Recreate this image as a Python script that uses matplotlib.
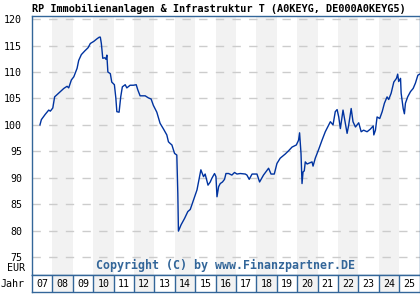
import matplotlib
matplotlib.use("Agg")
import matplotlib.pyplot as plt
from matplotlib.patches import Rectangle

# fund price (EUR): decimal year, value
years = [2007.39, 2007.46, 2007.65, 2007.82, 2007.90, 2008.02, 2008.11, 2008.31, 2008.56, 2008.72,
         2008.80, 2008.93, 2009.05, 2009.21, 2009.29, 2009.42, 2009.59, 2009.75, 2009.86, 2010.03,
         2010.19, 2010.30, 2010.35, 2010.40, 2010.47, 2010.57, 2010.63, 2010.67, 2010.72, 2010.84,
         2010.91, 2011.04, 2011.11, 2011.16, 2011.27, 2011.35, 2011.43, 2011.57, 2011.65, 2011.81,
         2011.97, 2012.11, 2012.19, 2012.30, 2012.55, 2012.71, 2012.84, 2012.95, 2013.12, 2013.28,
         2013.45, 2013.61, 2013.69, 2013.77, 2013.86, 2013.99, 2014.10, 2014.15, 2014.18, 2014.31,
         2014.48, 2014.64, 2014.76, 2014.92, 2015.09, 2015.20, 2015.28, 2015.33, 2015.41, 2015.49,
         2015.63, 2015.74, 2015.82, 2015.95, 2016.02, 2016.07, 2016.15, 2016.23, 2016.34, 2016.44,
         2016.51, 2016.64, 2016.80, 2016.93, 2017.05, 2017.21, 2017.46, 2017.54, 2017.65, 2017.79,
         2017.95, 2018.03, 2018.16, 2018.35, 2018.60, 2018.72, 2018.88, 2019.01, 2019.17, 2019.42,
         2019.58, 2019.75, 2019.96, 2020.07, 2020.12, 2020.19, 2020.24, 2020.29, 2020.35, 2020.40,
         2020.49, 2020.61, 2020.73, 2020.78, 2020.89, 2021.06, 2021.22, 2021.38, 2021.55, 2021.63,
         2021.76, 2021.87, 2021.96, 2022.04, 2022.12, 2022.25, 2022.32, 2022.45, 2022.53, 2022.65,
         2022.74, 2022.86, 2023.02, 2023.14, 2023.26, 2023.43, 2023.59, 2023.73, 2023.76, 2023.84,
         2023.92, 2024.05, 2024.17, 2024.28, 2024.41, 2024.49, 2024.61, 2024.74, 2024.87, 2024.93,
         2024.98, 2025.07, 2025.10, 2025.20, 2025.26, 2025.31, 2025.42, 2025.56, 2025.69, 2025.80,
         2025.92, 2026.01]
prices = [100.0, 101.0, 102.0, 102.8, 102.6, 103.2, 105.3, 106.0, 106.9, 107.3,
          107.0, 108.5, 109.1, 110.7, 112.2, 113.3, 114.0, 114.6, 115.4, 115.8,
          116.3, 116.6, 116.6, 115.4, 112.6, 112.7, 112.4, 113.2, 110.0, 109.7,
          108.1, 107.6, 105.1, 102.5, 102.4, 105.3, 107.2, 107.6, 107.0, 107.5,
          107.5, 107.6, 106.6, 105.5, 105.5, 105.1, 104.9, 103.7, 102.4, 100.3,
          99.2, 98.1, 96.8, 96.5, 96.2, 94.6, 94.3, 87.0, 79.9, 81.1,
          82.3, 83.6, 84.0, 85.8, 87.7, 89.9, 91.5, 91.0, 90.2, 90.7,
          88.6, 89.2, 89.9, 90.8, 90.2, 86.4, 88.3, 88.9, 89.2, 89.7,
          90.8, 90.8, 90.5, 91.0, 90.7, 90.8, 90.7, 90.5, 89.7, 90.7,
          90.7, 90.7, 89.2, 90.5, 91.8, 90.7, 90.7, 92.7, 93.7, 94.5,
          95.1, 95.8, 96.2, 97.1, 98.5, 94.6, 88.9, 91.1, 91.3, 93.0,
          92.6, 92.8, 93.0, 92.2, 93.7, 95.4, 97.1, 98.7, 100.0, 100.6,
          100.0, 102.5, 102.9, 101.5, 99.3, 102.8, 101.3, 98.4, 100.0, 103.1,
          100.6, 99.6, 100.4, 98.7, 99.0, 98.7, 99.2, 99.8, 98.1, 99.0,
          101.5, 101.2, 102.5, 104.1, 105.3, 104.8, 106.0, 108.1, 108.8, 109.6,
          108.2, 108.8, 106.0, 103.1, 102.1, 104.1, 105.3, 106.3, 106.9, 107.9,
          109.4, 109.6]

year_labels = ["07", "08", "09", "10", "11", "12", "13", "14", "15", "16",
               "17", "18", "19", "20", "21", "22", "23", "24", "25"]
y_ticks = [75, 80, 85, 90, 95, 100, 105, 110, 115, 120]

frame_col = "#336699"
line_col = "#0033a0"
shade = "#f2f2f2"
mono = "DejaVu Sans Mono"

fig = plt.figure(figsize=(4.2, 3.0), dpi=100)
W, H = 420.0, 300.0
ax = fig.add_axes([32 / W, 25 / H, 387.5 / W, 259 / H])
yr = fig.add_axes([32 / W, 8 / H, 387.5 / W, 17 / H])

x0 = 2007
ax.set_xlim(x0, x0 + len(year_labels))
ax.set_ylim(71.6, 120.6)

# alternating year bands
for i, lab in enumerate(year_labels):
    if i % 2 == 1:
        ax.axvspan(x0 + i, x0 + i + 1, color=shade, zorder=0, lw=0)
        yr.add_patch(Rectangle((i, 0), 1, 1, color=shade, zorder=0, lw=0))

for t in y_ticks:
    ax.axhline(t, color="#cccccc", lw=1, ls=(0, (6, 6)), zorder=1)

ax.plot(years, prices, color=line_col, lw=1.0, zorder=3)

ax.set_xticks([])
ax.set_yticks(y_ticks)
ax.set_yticklabels([str(t) for t in y_ticks], family=mono, fontsize=7.2)
ax.tick_params(axis="y", length=0, pad=7)
for s in ax.spines.values():
    s.set_color(frame_col)
    s.set_linewidth(1)

ax.text(0.5, 0.035, "Copyright (C) by www.Finanzpartner.DE", transform=ax.transAxes,
        ha="center", va="center", family=mono, fontweight="bold", fontsize=8.4,
        color=frame_col)

# year row
yr.set_xlim(0, len(year_labels))
yr.set_ylim(0, 1)
yr.set_xticks([])
yr.set_yticks([])
for i, lab in enumerate(year_labels):
    yr.text(i + 0.5, 0.45, lab, ha="center", va="center", family=mono, fontsize=7.2)
    if i > 0:
        yr.axvline(i, color=frame_col, lw=1)
for s in yr.spines.values():
    s.set_color(frame_col)
    s.set_linewidth(1)

fig.text(25 / W, 1 - 268 / H, "EUR", ha="right", va="center", family=mono, fontsize=7.2)
fig.text(25 / W, 1 - 284 / H, "Jahr", ha="right", va="center", family=mono, fontsize=7.2)
fig.text(32 / W, 1 - 9 / H, "RP Immobilienanlagen & Infrastruktur T (A0KEYG, DE000A0KEYG5)",
         ha="left", va="center", family=mono, fontweight="bold", fontsize=7.4)

fig.savefig("out.png", dpi=100)
